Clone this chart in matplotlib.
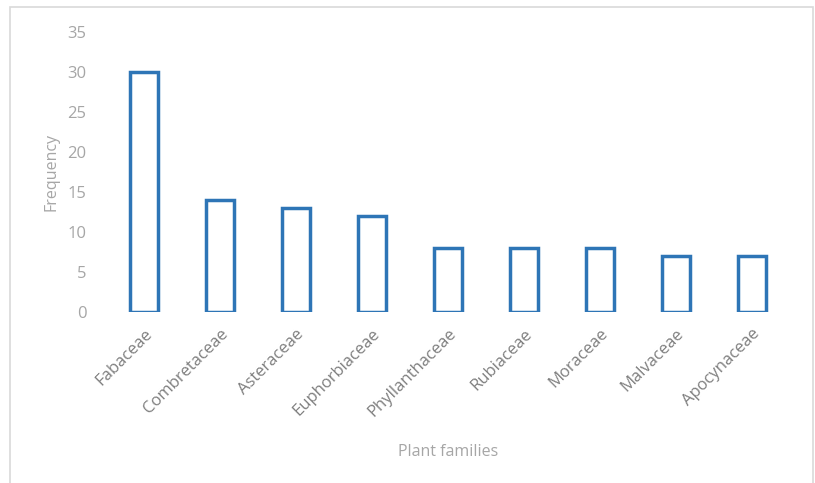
import matplotlib.pyplot as plt
from matplotlib.patches import Rectangle

families = ['Fabaceae', 'Combretaceae', 'Asteraceae', 'Euphorbiaceae', 'Phyllanthaceae',
            'Rubiaceae', 'Moraceae', 'Malvaceae', 'Apocynaceae']
frequency = [30, 14, 13, 12, 8, 8, 8, 7, 7]

plt.rcParams['font.family'] = ['Open Sans', 'DejaVu Sans']

fig = plt.figure(figsize=(8.15, 4.83), dpi=100)
ax = fig.add_axes([0.130, 0.354, 0.839, 0.580])

x = range(len(families))
ax.bar(x, frequency, width=0.37, facecolor='white', edgecolor='#2E75B6', linewidth=2.5)

ax.set_xlim(-0.5, len(families) - 0.5)
ax.set_ylim(0, 35)
ax.set_yticks(range(0, 36, 5))
ax.set_xticks(list(x))
ax.set_xticklabels(families, rotation=45, ha='right', rotation_mode='anchor',
                   fontsize=12, color='#7F7F7F')
ax.tick_params(axis='y', labelsize=12, labelcolor='#A6A6A6', length=0, pad=14)
ax.tick_params(axis='x', length=0, pad=10)
for s in ax.spines.values():
    s.set_visible(False)

ax.set_ylabel('Frequency', fontsize=11.5, color='#A6A6A6', labelpad=6)
ax.set_xlabel('Plant families', fontsize=11.5, color='#A6A6A6')
ax.xaxis.set_label_coords(0.5, -0.47)

# light frame around the chart area
fig.patches.append(Rectangle((10 / 815, -0.05), 803 / 815, 1.05 - 7 / 483,
                             transform=fig.transFigure, fill=False,
                             edgecolor='#D9D9D9', linewidth=1.2))

fig.savefig('out.png', dpi=100)
